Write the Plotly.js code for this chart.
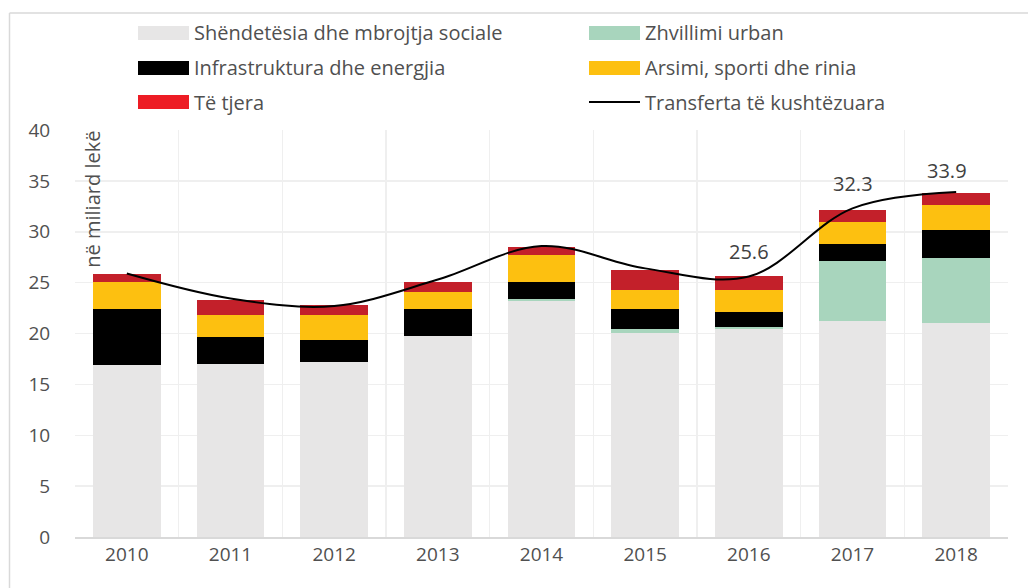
<!DOCTYPE html>
<html>
<head>
<meta charset="utf-8">
<script src="https://cdn.plot.ly/plotly-3.0.1.min.js"></script>
<style>
html,body{margin:0;padding:0;background:#fff;}
#chart{width:1028px;height:588px;}
</style>
</head>
<body>
<div id="chart"></div>
<script>
// ---- data ----
const years = ['2010','2011','2012','2013','2014','2015','2016','2017','2018'];
const health   = [16.87, 17.03, 17.23, 19.72, 23.16, 20.08, 20.47, 21.27, 21.08];
const urban    = [0, 0, 0, 0, 0.2, 0.39, 0.2, 5.89, 6.31];
const infra    = [5.5, 2.66, 2.1, 2.66, 1.67, 1.91, 1.48, 1.67, 2.81];
const educ     = [2.65, 2.13, 2.49, 1.73, 2.69, 1.9, 2.13, 2.17, 2.46];
const other    = [0.82, 1.5, 0.95, 0.95, 0.78, 1.93, 1.37, 1.14, 1.18];
const transfer = [25.9, 23.45, 22.7, 25.3, 28.6, 26.4, 25.6, 32.3, 33.9];
const pointLabels = ['', '', '', '', '', '', '25.6', '32.3', '33.9'];

const seriesNames = ['Shëndetësia dhe mbrojtja sociale','Zhvillimi urban','Infrastruktura dhe energjia','Arsimi, sporti dhe rinia','Të tjera'];
const lineName = 'Transferta të kushtëzuara';
const yTicks = [0,5,10,15,20,25,30,35,40];
const yUnit = 'në miliard lekë';

// ---- styles ----
const barColors = ['#E7E6E6','#A8D5BD','#000000','#FDC010','#C3202A'];
const legendColors = ['#E7E6E6','#A8D5BD','#000000','#FDC010','#ED1C24'];
const textColor = '#505050';
const FONT = 'Open Sans, sans-serif';

const seriesValues = [health, urban, infra, educ, other];
const traces = seriesValues.map((vals, i) => ({
  type: 'bar', x: years, y: vals, name: seriesNames[i],
  marker: {color: barColors[i], line: {width: 0}},
  showlegend: false, hoverinfo: 'x+y+name'
}));
traces.push({
  type: 'scatter', mode: 'lines', x: years, y: transfer, name: lineName,
  line: {color: '#000000', width: 2, shape: 'spline', smoothing: 1},
  showlegend: false
});

// plot-area pixel helpers for the hand-built legend / frame
const L = 75, R = 1008, T = 130, B = 537;
const px = v => (v - L) / (R - L);
const py = v => (B - v) / (B - T);

const shapes = [];
const annotations = [];
// frame
shapes.push({type:'line', xref:'paper', yref:'paper', x0:px(9.5), x1:px(1040), y0:py(13), y1:py(13), line:{color:'#D9D9D9', width:1.5}});
shapes.push({type:'line', xref:'paper', yref:'paper', x0:px(9.5), x1:px(9.5), y0:py(13), y1:py(600), line:{color:'#D9D9D9', width:1.5}});

// legend (two columns)
const legendItems = [
  {name: seriesNames[0], color: legendColors[0], kind:'box'},
  {name: seriesNames[1], color: legendColors[1], kind:'box'},
  {name: seriesNames[2], color: legendColors[2], kind:'box'},
  {name: seriesNames[3], color: legendColors[3], kind:'box'},
  {name: seriesNames[4], color: legendColors[4], kind:'box'},
  {name: lineName, color: '#000000', kind:'line'}
];
const colX = [138, 589];
const rowY = [33, 68, 102];
legendItems.forEach((it, k) => {
  const cx = colX[k % 2], cy = rowY[Math.floor(k / 2)];
  if (it.kind === 'box') {
    shapes.push({type:'rect', xref:'paper', yref:'paper', x0:px(cx), x1:px(cx+51), y0:py(cy+7), y1:py(cy-7), fillcolor:it.color, line:{width:0}});
  } else {
    shapes.push({type:'line', xref:'paper', yref:'paper', x0:px(cx), x1:px(cx+51), y0:py(cy), y1:py(cy), line:{color:it.color, width:2}});
  }
  annotations.push({xref:'paper', yref:'paper', x:px(cx+54), y:py(cy), xanchor:'left', yanchor:'middle', showarrow:false, text:it.name, font:{family:FONT, size:20, color:textColor}});
});

// y unit label inside plot
annotations.push({xref:'paper', yref:'paper', x:px(93), y:1.002, xanchor:'center', yanchor:'top', textangle:-90, showarrow:false, text:yUnit, font:{family:FONT, size:20, color:textColor}});

// point labels for the line
pointLabels.forEach((t, i) => {
  if (t) annotations.push({x: i, y: transfer[i], xref:'x', yref:'y', text: t, showarrow:false, yshift: (i === 8 ? 22 : 25), xshift: (i === 8 ? -9 : 0), font:{family:FONT, size:20, color:'#404040'}});
});

const layout = {
  width: 1028, height: 588,
  margin: {l: L, r: 1028 - R, t: T, b: 588 - B, pad: 0},
  paper_bgcolor: '#ffffff', plot_bgcolor: '#ffffff',
  barmode: 'stack', bargap: 0.35,
  showlegend: false,
  font: {family: FONT, size: 19, color: textColor},
  xaxis: {
    type: 'category', range: [-0.5, 8.5], tickson: 'boundaries',
    showgrid: true, gridcolor: '#EFEFEF', gridwidth: 1.5,
    showline: true, linecolor: '#D9D9D9', linewidth: 1.5,
    ticks: '', tickfont: {family: FONT, size: 19, color: textColor},
    zeroline: false
  },
  yaxis: {
    range: [0, 40], tickvals: yTicks, ticktext: yTicks.map(String),
    showgrid: true, gridcolor: '#EFEFEF', gridwidth: 1.5,
    zeroline: false, showline: false,
    ticks: 'outside', ticklen: 20, tickcolor: 'rgba(0,0,0,0)',
    tickfont: {family: FONT, size: 19, color: textColor}
  },
  shapes: shapes,
  annotations: annotations
};

Plotly.newPlot('chart', traces, layout, {displayModeBar: false, staticPlot: true});
</script>
</body>
</html>
